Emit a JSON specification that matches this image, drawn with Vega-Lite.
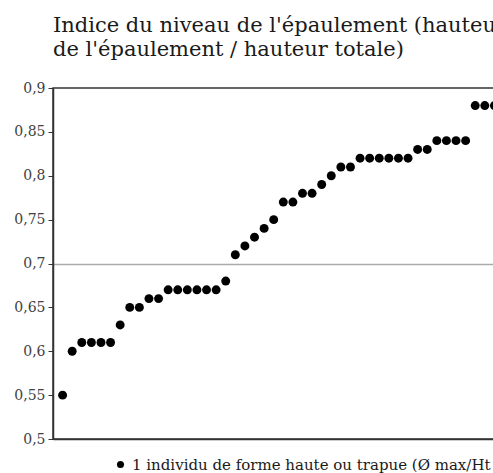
{
  "$schema": "https://vega.github.io/schema/vega-lite/v6.json",
  "width": 451,
  "height": 351,
  "padding": {"left": 13, "top": 15, "right": 0, "bottom": 0},
  "background": "white",
  "title": {
    "text": ["Indice du niveau de l'épaulement (hauteur", "de l'épaulement  /  hauteur totale)"],
    "anchor": "start",
    "frame": "group",
    "font": "DejaVu Serif",
    "fontSize": 21,
    "fontWeight": "normal",
    "color": "#1a1a1a",
    "lineHeight": 24,
    "offset": 21
  },
  "data": {
    "values": [
      {"i": 1, "v": 0.55, "s": "1 individu de forme haute ou trapue (Ø max/Ht"},
      {"i": 2, "v": 0.60, "s": "1 individu de forme haute ou trapue (Ø max/Ht"},
      {"i": 3, "v": 0.61, "s": "1 individu de forme haute ou trapue (Ø max/Ht"},
      {"i": 4, "v": 0.61, "s": "1 individu de forme haute ou trapue (Ø max/Ht"},
      {"i": 5, "v": 0.61, "s": "1 individu de forme haute ou trapue (Ø max/Ht"},
      {"i": 6, "v": 0.61, "s": "1 individu de forme haute ou trapue (Ø max/Ht"},
      {"i": 7, "v": 0.63, "s": "1 individu de forme haute ou trapue (Ø max/Ht"},
      {"i": 8, "v": 0.65, "s": "1 individu de forme haute ou trapue (Ø max/Ht"},
      {"i": 9, "v": 0.65, "s": "1 individu de forme haute ou trapue (Ø max/Ht"},
      {"i": 10, "v": 0.66, "s": "1 individu de forme haute ou trapue (Ø max/Ht"},
      {"i": 11, "v": 0.66, "s": "1 individu de forme haute ou trapue (Ø max/Ht"},
      {"i": 12, "v": 0.67, "s": "1 individu de forme haute ou trapue (Ø max/Ht"},
      {"i": 13, "v": 0.67, "s": "1 individu de forme haute ou trapue (Ø max/Ht"},
      {"i": 14, "v": 0.67, "s": "1 individu de forme haute ou trapue (Ø max/Ht"},
      {"i": 15, "v": 0.67, "s": "1 individu de forme haute ou trapue (Ø max/Ht"},
      {"i": 16, "v": 0.67, "s": "1 individu de forme haute ou trapue (Ø max/Ht"},
      {"i": 17, "v": 0.67, "s": "1 individu de forme haute ou trapue (Ø max/Ht"},
      {"i": 18, "v": 0.68, "s": "1 individu de forme haute ou trapue (Ø max/Ht"},
      {"i": 19, "v": 0.71, "s": "1 individu de forme haute ou trapue (Ø max/Ht"},
      {"i": 20, "v": 0.72, "s": "1 individu de forme haute ou trapue (Ø max/Ht"},
      {"i": 21, "v": 0.73, "s": "1 individu de forme haute ou trapue (Ø max/Ht"},
      {"i": 22, "v": 0.74, "s": "1 individu de forme haute ou trapue (Ø max/Ht"},
      {"i": 23, "v": 0.75, "s": "1 individu de forme haute ou trapue (Ø max/Ht"},
      {"i": 24, "v": 0.77, "s": "1 individu de forme haute ou trapue (Ø max/Ht"},
      {"i": 25, "v": 0.77, "s": "1 individu de forme haute ou trapue (Ø max/Ht"},
      {"i": 26, "v": 0.78, "s": "1 individu de forme haute ou trapue (Ø max/Ht"},
      {"i": 27, "v": 0.78, "s": "1 individu de forme haute ou trapue (Ø max/Ht"},
      {"i": 28, "v": 0.79, "s": "1 individu de forme haute ou trapue (Ø max/Ht"},
      {"i": 29, "v": 0.80, "s": "1 individu de forme haute ou trapue (Ø max/Ht"},
      {"i": 30, "v": 0.81, "s": "1 individu de forme haute ou trapue (Ø max/Ht"},
      {"i": 31, "v": 0.81, "s": "1 individu de forme haute ou trapue (Ø max/Ht"},
      {"i": 32, "v": 0.82, "s": "1 individu de forme haute ou trapue (Ø max/Ht"},
      {"i": 33, "v": 0.82, "s": "1 individu de forme haute ou trapue (Ø max/Ht"},
      {"i": 34, "v": 0.82, "s": "1 individu de forme haute ou trapue (Ø max/Ht"},
      {"i": 35, "v": 0.82, "s": "1 individu de forme haute ou trapue (Ø max/Ht"},
      {"i": 36, "v": 0.82, "s": "1 individu de forme haute ou trapue (Ø max/Ht"},
      {"i": 37, "v": 0.82, "s": "1 individu de forme haute ou trapue (Ø max/Ht"},
      {"i": 38, "v": 0.83, "s": "1 individu de forme haute ou trapue (Ø max/Ht"},
      {"i": 39, "v": 0.83, "s": "1 individu de forme haute ou trapue (Ø max/Ht"},
      {"i": 40, "v": 0.84, "s": "1 individu de forme haute ou trapue (Ø max/Ht"},
      {"i": 41, "v": 0.84, "s": "1 individu de forme haute ou trapue (Ø max/Ht"},
      {"i": 42, "v": 0.84, "s": "1 individu de forme haute ou trapue (Ø max/Ht"},
      {"i": 43, "v": 0.84, "s": "1 individu de forme haute ou trapue (Ø max/Ht"},
      {"i": 44, "v": 0.88, "s": "1 individu de forme haute ou trapue (Ø max/Ht"},
      {"i": 45, "v": 0.88, "s": "1 individu de forme haute ou trapue (Ø max/Ht"},
      {"i": 46, "v": 0.88, "s": "1 individu de forme haute ou trapue (Ø max/Ht"}
    ]
  },
  "mark": {"type": "circle", "size": 80, "opacity": 1},
  "encoding": {
    "x": {
      "field": "i",
      "type": "quantitative",
      "scale": {"domain": [0, 47], "nice": false, "zero": false},
      "axis": {"title": null, "labels": false, "ticks": false, "grid": false, "domainColor": "#333333", "domainWidth": 1.5}
    },
    "y": {
      "field": "v",
      "type": "quantitative",
      "scale": {"domain": [0.5, 0.9], "nice": false, "zero": false},
      "axis": {
        "title": null,
        "values": [0.5, 0.55, 0.6, 0.65, 0.7, 0.75, 0.8, 0.85, 0.9],
        "labelExpr": "replace(format(datum.value, '.2~f'), '.', ',')",
        "labelFont": "DejaVu Serif",
        "labelFontSize": 14,
        "labelColor": "#404040",
        "labelPadding": 3,
        "tickSize": 5,
        "tickColor": "#333333",
        "domainColor": "#333333",
        "domainWidth": 1.5,
        "grid": true,
        "gridColor": "#aaaaaa",
        "gridWidth": 1.5,
        "gridOpacity": {"condition": {"test": "abs(datum.value - 0.7) < 0.001", "value": 1}, "value": 0}
      }
    },
    "color": {
      "field": "s",
      "type": "nominal",
      "scale": {"range": ["#000000"]},
      "legend": {
        "title": null,
        "orient": "none",
        "legendX": 60,
        "legendY": 369,
        "labelFont": "DejaVu Serif",
        "labelFontSize": 15,
        "labelColor": "#1a1a1a",
        "labelLimit": 0,
        "symbolType": "circle",
        "symbolSize": 50,
        "symbolStrokeWidth": 0
      }
    }
  },
  "config": {
    "view": {"stroke": "#333333", "strokeWidth": 1.5}
  }
}
